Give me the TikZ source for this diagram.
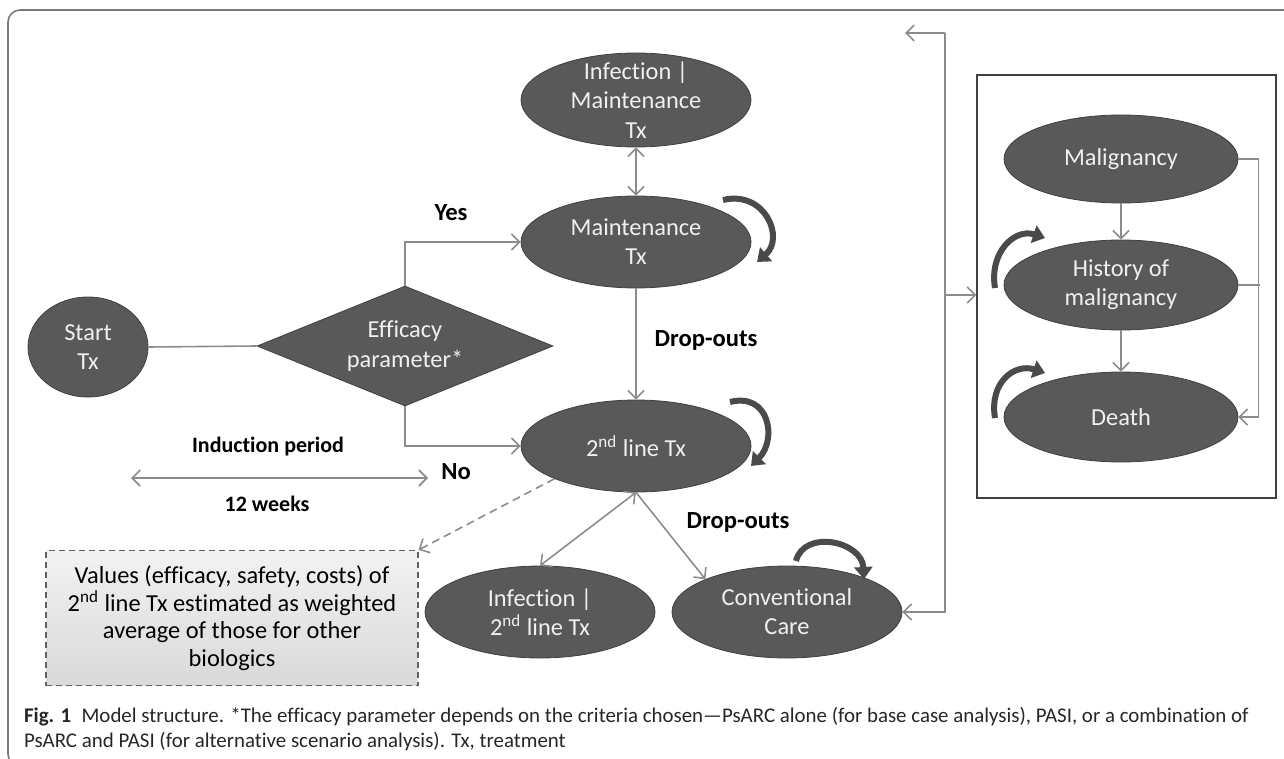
\documentclass[tikz,border=0pt]{standalone}
\usepackage{fontspec}
\setmainfont{Carlito}[Ligatures=NoCommon]
\usetikzlibrary{shapes.geometric,arrows.meta,calc}
\definecolor{stategray}{HTML}{595959}
\definecolor{stateedge}{HTML}{404040}
\definecolor{linegray}{HTML}{8C8C8C}
\definecolor{loopgray}{HTML}{4A4A4A}
\definecolor{framegray}{HTML}{7A7A7A}

\begin{document}
\begin{tikzpicture}[x=0.5pt,y=-0.5pt,
    stnode/.style={ellipse,fill=stategray,draw=stateedge,line width=0.4pt,text=white!94!black,
      minimum width=115pt,minimum height=46pt,inner xsep=0pt,inner ysep=-8pt,align=center,
      font=\fontsize{12.2}{14.6}\selectfont},
    decide/.style={diamond,fill=stategray,draw=stateedge,line width=0.4pt,text=white!94!black,
      aspect=2.47,minimum width=148pt,minimum height=60pt,inner sep=0pt,align=center,
      font=\fontsize{12.2}{14.6}\selectfont},
    notebox/.style={draw=gray!75!black,dash pattern=on 3pt off 2pt,line width=0.6pt,
      top color=gray!10,bottom color=gray!30,minimum width=186pt,minimum height=67.5pt,
      inner sep=0pt,align=center,font=\fontsize{12.2}{13.8}\selectfont},
    conn/.style={draw=linegray,line width=0.8pt},
    arr/.style={conn,-{Straight Barb[length=4pt,width=8pt]}},
    darr/.style={conn,{Straight Barb[length=4pt,width=8pt]}-{Straight Barb[length=4pt,width=8pt]}},
    selfloop/.style={draw=loopgray,line width=3pt,-{Triangle[length=6pt,width=9pt]}},
    lab/.style={font=\fontsize{11}{13}\selectfont\bfseries},
    biglab/.style={font=\fontsize{12.3}{14}\selectfont\bfseries},
  ]
  \useasboundingbox (0,0) rectangle (1284,759);
  % figure frame
  \draw[framegray,line width=0.8pt,rounded corners=6pt] (1290,10) -- (8,10) -- (8,766) -- (30,766);

  % states of the treatment part
  \node[stnode,minimum width=60pt,minimum height=50pt] (start) at (88,347) {Start\\Tx};
  \node[decide] (eff) at (405,346) {Efficacy\\parameter*};
  \node[stnode,minimum height=47pt] (infmaint) at (636,100) {Infection |\\Maintenance\\Tx};
  \node[stnode] (maint) at (636,242) {Maintenance\\Tx};
  \node[stnode] (second) at (636,446) {2\textsuperscript{nd} line Tx};
  \node[stnode] (infsec) at (540,612) {Infection |\\2\textsuperscript{nd} line Tx};
  \node[stnode] (conv) at (787,612) {Conventional\\Care};
  \node[notebox] (note) at (232,618) {Values (efficacy, safety, costs) of\\2\textsuperscript{nd} line Tx estimated as weighted\\average of those for other\\biologics};

  % labels
  \node[biglab] (yes) at (451,213) {Yes};
  \node[biglab] (no) at (456,472) {No};
  \node[biglab] (drop1) at (706,340) {Drop-outs};
  \node[biglab] (drop2) at (738,522) {Drop-outs};
  \node[lab] (indper) at (268,447) {Induction period};
  \node[lab] (weeks) at (267,504) {12 weeks};

  % transitions
  \draw[conn] (start.east) -- (eff.west);
  \draw[arr] (eff.north) |- (maint.west);
  \draw[arr] (eff.south) |- (second.west);
  \draw[darr] (infmaint) -- (maint);
  \draw[arr] (maint) -- (second);
  \draw[darr] (second.south) -- (infsec.north);
  \draw[arr] (second.south) -- (conv.north west);
  \draw[arr,dash pattern=on 4pt off 2.5pt] (second.south west) -- (note.north east);
  \coordinate (indL) at (131,478);
  \coordinate (indR) at (428,478);
  \draw[darr] (indL) -- (indR);

  % self loops
  \draw[selfloop] ($(maint.center)+(87,-42)$) .. controls +(42,-10) and +(28,-24) .. ($(maint.center)+(121,20)$);
  \draw[selfloop] ($(second.center)+(94,-44)$) .. controls +(40,-10) and +(26,-26) .. ($(second.center)+(115,20)$);
  \draw[selfloop] ($(conv.center)+(9,-51)$) .. controls +(8,-32) and +(-2,-38) .. ($(conv.center)+(77,-33)$);

  % malignancy part
  \node[draw=black!75,line width=0.7pt,minimum width=149.5pt,minimum height=211.5pt,inner sep=0pt] (mbox) at (1126.5,286.5) {};
  \node[stnode,minimum width=117pt,minimum height=44pt] (malig) at (1121,159) {Malignancy};
  \node[stnode,minimum width=117pt,minimum height=45pt] (hist) at (1121,285) {History of\\malignancy};
  \node[stnode,minimum width=117pt,minimum height=45pt] (death) at (1121,417) {Death};
  \draw[arr] (malig) -- (hist);
  \draw[arr] (hist) -- (death);
  \draw[arr] (malig.east) -- ++(20,0) |- (death.east);
  \draw[conn] (hist.east) -- ++(22,0);
  \draw[selfloop] ($(hist.center)+(-126,3)$) .. controls +(-6,-36) and +(-30,-10) .. ($(hist.center)+(-76,-47)$);
  \draw[selfloop] ($(death.center)+(-126,1)$) .. controls +(-6,-36) and +(-30,-10) .. ($(death.center)+(-76,-44)$);

  % rail between both parts
  \coordinate (rail) at (945,33);
  \coordinate (railend) at (905,33);
  \coordinate (railin) at (945,295);
  \draw[arr] (rail) -- (railend);
  \draw[arr] (rail) |- (conv.east);
  \draw[arr] (railin) -- (railin -| mbox.west);

  % caption
  \node[anchor=west,align=left,font=\fontsize{10.45}{12.5}\selectfont,text=black!85] (cap) at (17,729)
    {\textbf{Fig. 1}\enspace Model structure. *The efficacy parameter depends on the criteria chosen—PsARC alone (for base case analysis), PASI, or a combination of\\PsARC and PASI (for alternative scenario analysis). Tx, treatment};
\end{tikzpicture}
\end{document}
